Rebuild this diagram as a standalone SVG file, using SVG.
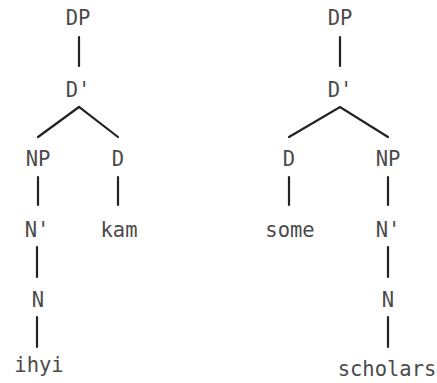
<svg xmlns="http://www.w3.org/2000/svg" width="437" height="383" viewBox="0 0 437 383">
  <style>
    .lbl { font-family: "DejaVu Sans Mono", "Liberation Mono", monospace; font-size: 20.5px; fill: #4a4a4a; text-anchor: middle; }
    .edge { stroke: #222; stroke-width: 2.2; fill: none; stroke-linecap: round; }
  </style>
  <rect width="437" height="383" fill="#fff"/>
  <!-- Left tree: [DP [D' [NP [N' [N ihyi]]] [D kam]]] -->
  <g id="edges-left">
    <line class="edge" x1="79" y1="37" x2="79" y2="66"/>
    <polyline class="edge" points="38,137 79,107 118,137"/>
    <line class="edge" x1="38" y1="177" x2="38" y2="205"/>
    <line class="edge" x1="118" y1="177" x2="118" y2="205"/>
    <line class="edge" x1="37" y1="247" x2="37" y2="277"/>
    <line class="edge" x1="37" y1="317" x2="37" y2="347"/>
  </g>
  <g id="l-dp"><text class="lbl" x="78" y="25">DP</text></g>
  <g id="l-dbar"><text class="lbl" x="78" y="97">D'</text></g>
  <g id="l-np"><text class="lbl" x="38" y="166">NP</text></g>
  <g id="l-d"><text class="lbl" x="118" y="166">D</text></g>
  <g id="l-nbar"><text class="lbl" x="37" y="237">N'</text></g>
  <g id="l-kam"><text class="lbl" x="119" y="237">kam</text></g>
  <g id="l-n"><text class="lbl" x="38" y="307">N</text></g>
  <g id="l-ihyi"><text class="lbl" x="39" y="372">ihyi</text></g>

  <!-- Right tree: [DP [D' [D some] [NP [N' [N scholars]]]]] -->
  <g id="edges-right">
    <line class="edge" x1="340" y1="37" x2="340" y2="66"/>
    <polyline class="edge" points="289,137 340,107 388,137"/>
    <line class="edge" x1="289" y1="177" x2="289" y2="205"/>
    <line class="edge" x1="388" y1="177" x2="388" y2="205"/>
    <line class="edge" x1="388" y1="247" x2="388" y2="277"/>
    <line class="edge" x1="388" y1="317" x2="388" y2="347"/>
  </g>
  <g id="r-dp"><text class="lbl" x="340" y="25">DP</text></g>
  <g id="r-dbar"><text class="lbl" x="340" y="97">D'</text></g>
  <g id="r-d"><text class="lbl" x="289" y="166">D</text></g>
  <g id="r-np"><text class="lbl" x="388" y="166">NP</text></g>
  <g id="r-some"><text class="lbl" x="290" y="237">some</text></g>
  <g id="r-nbar"><text class="lbl" x="388" y="237">N'</text></g>
  <g id="r-n"><text class="lbl" x="388" y="307">N</text></g>
  <g id="r-scholars"><text class="lbl" x="387" y="376">scholars</text></g>
</svg>
